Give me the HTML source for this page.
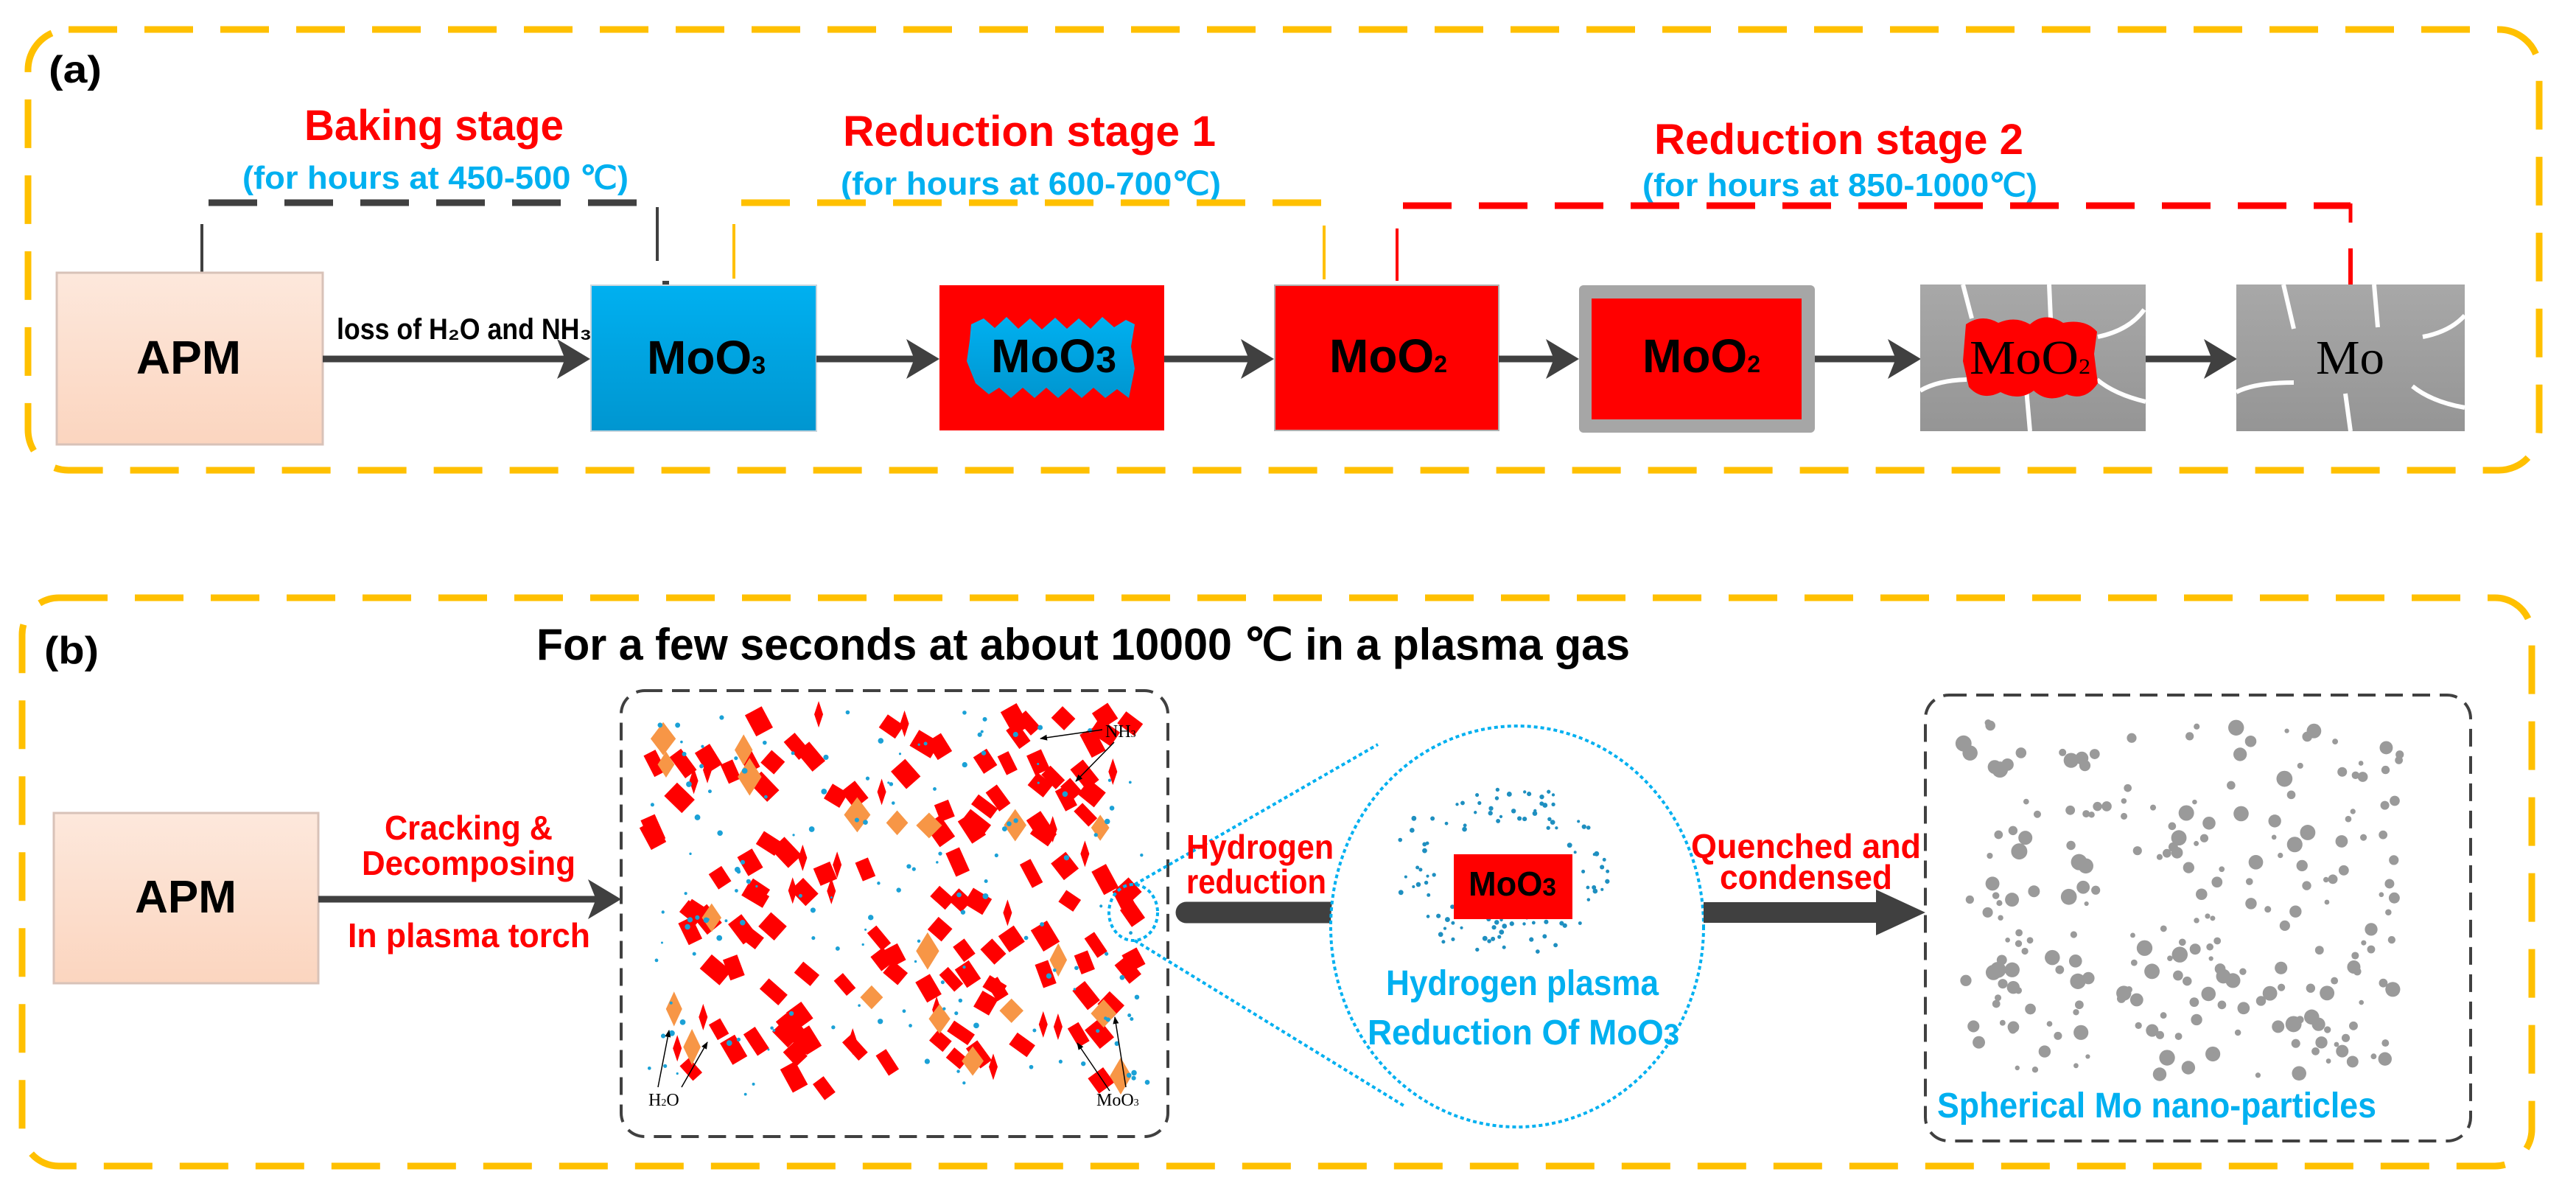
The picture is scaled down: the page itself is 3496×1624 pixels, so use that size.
<!DOCTYPE html>
<html><head><meta charset="utf-8"><style>
html,body{margin:0;padding:0;background:#fff;}
svg{display:block;}
.s{font-family:"Liberation Sans Narrow","Liberation Sans",sans-serif;font-weight:bold;}
.t{font-family:"Liberation Serif",serif;}
</style></head><body>
<svg id="svg" width="3496" height="1624" viewBox="0 0 3496 1624" xmlns="http://www.w3.org/2000/svg">
<defs>
<linearGradient id="apm" x1="0" y1="0" x2="0" y2="1"><stop offset="0" stop-color="#FDE8DC"/><stop offset="1" stop-color="#FBD5BF"/></linearGradient>
<linearGradient id="blu" x1="0" y1="0" x2="0" y2="1"><stop offset="0" stop-color="#00B0F0"/><stop offset="1" stop-color="#0096D0"/></linearGradient>
<linearGradient id="gry" x1="0" y1="0" x2="0" y2="1"><stop offset="0" stop-color="#A8A8A8"/><stop offset="1" stop-color="#959595"/></linearGradient>
<marker id="ah" markerWidth="6" markerHeight="6" refX="4" refY="3" orient="auto" markerUnits="strokeWidth"><path d="M0,0 L5,3 L0,6 L1.2,3 Z" fill="#404040"/></marker>
<marker id="sa" markerWidth="10" markerHeight="10" refX="9" refY="5" orient="auto" markerUnits="userSpaceOnUse"><path d="M0,1 L10,5 L0,9 Z" fill="#000"/></marker>
</defs>

<!-- Panel a -->
<rect x="38" y="40" width="3408" height="598" rx="55" fill="none" stroke="#FFC000" stroke-width="9" stroke-dasharray="66 37"/>
<text x="66" y="112" class="s" font-size="52" fill="#000" textLength="72" lengthAdjust="spacingAndGlyphs">(a)</text>

<text x="413" y="190" class="s" font-size="58" fill="#FF0000" textLength="352" lengthAdjust="spacingAndGlyphs">Baking stage</text>
<text x="329" y="256" class="s" font-size="44" fill="#00B0F0" textLength="524" lengthAdjust="spacingAndGlyphs">(for hours at 450-500 ℃)</text>
<text x="1144" y="198" class="s" font-size="58" fill="#FF0000" textLength="506" lengthAdjust="spacingAndGlyphs">Reduction stage 1</text>
<text x="1141" y="264" class="s" font-size="44" fill="#00B0F0" textLength="516" lengthAdjust="spacingAndGlyphs">(for hours at 600-700℃)</text>
<text x="2245" y="209" class="s" font-size="58" fill="#FF0000" textLength="501" lengthAdjust="spacingAndGlyphs">Reduction stage 2</text>
<text x="2229" y="266" class="s" font-size="44" fill="#00B0F0" textLength="536" lengthAdjust="spacingAndGlyphs">(for hours at 850-1000℃)</text>

<!-- stage brackets -->
<line x1="283" y1="275" x2="865" y2="275" stroke="#404040" stroke-width="9" stroke-dasharray="66 37"/>
<line x1="274" y1="304" x2="274" y2="377" stroke="#404040" stroke-width="4"/>
<line x1="892" y1="281" x2="892" y2="354" stroke="#404040" stroke-width="4"/>
<rect x="899" y="381" width="9" height="10" fill="#404040"/>
<line x1="1006" y1="275" x2="1793" y2="275" stroke="#FFC000" stroke-width="9" stroke-dasharray="66 37"/>
<line x1="996" y1="304" x2="996" y2="378" stroke="#FFC000" stroke-width="4"/>
<line x1="1797" y1="306" x2="1797" y2="379" stroke="#FFC000" stroke-width="4"/>
<line x1="1904" y1="279" x2="3190" y2="279" stroke="#FF0000" stroke-width="9" stroke-dasharray="66 37"/>
<line x1="1896" y1="310" x2="1896" y2="381" stroke="#FF0000" stroke-width="4"/>
<line x1="3190" y1="276" x2="3190" y2="302" stroke="#FF0000" stroke-width="5"/>
<polyline points="3190,337 3190,392 3202,392" fill="none" stroke="#FF0000" stroke-width="6"/>

<!-- boxes a -->
<rect x="77" y="370" width="361" height="233" fill="url(#apm)" stroke="#D8C2B8" stroke-width="3"/>
<text x="256" y="507" class="s" font-size="64" text-anchor="middle" fill="#000">APM</text>
<line x1="438" y1="487" x2="792" y2="487" stroke="#404040" stroke-width="9" marker-end="url(#ah)"/>
<text x="457" y="460" class="s" font-size="40" fill="#000" font-weight="normal" textLength="346" lengthAdjust="spacingAndGlyphs">loss of H₂O and NH₃</text>

<rect x="802" y="387" width="306" height="198" fill="url(#blu)" stroke="#C9D6DE" stroke-width="2"/>
<text x="878" y="507" class="s" font-size="64" fill="#000">MoO<tspan font-size="34">3</tspan></text>
<line x1="1108" y1="487" x2="1266" y2="487" stroke="#404040" stroke-width="9" marker-end="url(#ah)"/>

<rect x="1275" y="387" width="305" height="197" fill="#FF0000"/>
<path d="M1318,440 L1335,432 L1350,445 L1366,430 L1382,446 L1398,432 L1414,447 L1432,431 L1448,446 L1464,432 L1480,446 L1496,430 L1512,444 L1528,434 L1540,440 L1535,470 L1540,500 L1532,540 L1516,528 L1500,540 L1484,526 L1468,540 L1452,526 L1436,540 L1420,526 L1404,540 L1388,526 L1372,540 L1356,526 L1342,535 L1324,520 L1312,490 L1316,462 Z" fill="url(#blu)"/>
<text x="1345" y="505" class="s" font-size="64" fill="#000">MoO<tspan font-size="50">3</tspan></text>
<line x1="1580" y1="487" x2="1720" y2="487" stroke="#404040" stroke-width="9" marker-end="url(#ah)"/>

<rect x="1730" y="387" width="304" height="197" fill="#FF0000" stroke="#B0B0B0" stroke-width="2"/>
<text x="1804" y="505" class="s" font-size="64" fill="#000">MoO<tspan font-size="32">2</tspan></text>
<line x1="2034" y1="487" x2="2134" y2="487" stroke="#404040" stroke-width="9" marker-end="url(#ah)"/>

<rect x="2143" y="387" width="320" height="200" rx="6" fill="#A6A6A6"/>
<rect x="2160" y="405" width="285" height="164" fill="#FF0000"/>
<text x="2229" y="505" class="s" font-size="64" fill="#000">MoO<tspan font-size="32">2</tspan></text>
<line x1="2463" y1="487" x2="2598" y2="487" stroke="#404040" stroke-width="9" marker-end="url(#ah)"/>

<rect x="2606" y="386" width="306" height="199" fill="url(#gry)"/>
<g stroke="#fff" stroke-width="6" fill="none">
<path d="M2664,386 L2676,432"/><path d="M2781,386 L2783,432"/><path d="M2750,528 L2755,585"/>
<path d="M2606,530 Q2630,516 2669,515"/><path d="M2847,457 Q2890,448 2910,420"/><path d="M2846,515 Q2870,535 2912,545"/>
</g>
<path d="M2668,440 Q2690,425 2712,438 Q2735,428 2755,440 Q2775,422 2800,438 Q2830,432 2846,450 L2842,480 L2847,520 Q2830,545 2805,535 Q2780,548 2760,530 Q2740,545 2715,532 Q2690,545 2672,525 L2664,490 Z" fill="#FF0000"/>
<text x="2673" y="507" class="t" font-size="66" fill="#000" textLength="164" lengthAdjust="spacingAndGlyphs">MoO<tspan font-size="30">2</tspan></text>
<line x1="2912" y1="487" x2="3027" y2="487" stroke="#404040" stroke-width="9" marker-end="url(#ah)"/>

<rect x="3035" y="386" width="310" height="199" fill="url(#gry)"/>
<g stroke="#fff" stroke-width="6" fill="none">
<path d="M3099,386 L3113,446"/><path d="M3222,386 L3227,444"/><path d="M3183,534 L3190,585"/>
<path d="M3035,532 Q3060,519 3113,519"/><path d="M3288,457 Q3325,450 3345,428"/><path d="M3274,524 Q3300,545 3345,553"/>
</g>
<text x="3143" y="507" class="t" font-size="66" fill="#000" textLength="93" lengthAdjust="spacingAndGlyphs">Mo</text>

<!-- Panel b -->
<rect x="30" y="811" width="3406" height="771" rx="50" fill="none" stroke="#FFC000" stroke-width="9" stroke-dasharray="66 37"/>
<text x="60" y="900" class="s" font-size="52" fill="#000" textLength="74" lengthAdjust="spacingAndGlyphs">(b)</text>
<text x="728" y="895" class="s" font-size="60" fill="#000" textLength="1484" lengthAdjust="spacingAndGlyphs">For a few seconds at about 10000 ℃ in a plasma gas</text>

<rect x="73" y="1103" width="359" height="231" fill="url(#apm)" stroke="#D8C2B8" stroke-width="3"/>
<text x="252" y="1238" class="s" font-size="62" text-anchor="middle" fill="#000">APM</text>
<line x1="432" y1="1220" x2="834" y2="1220" stroke="#404040" stroke-width="9" marker-end="url(#ah)"/>
<text x="522" y="1139" class="s" font-size="46" fill="#FF0000" textLength="228" lengthAdjust="spacingAndGlyphs">Cracking &amp;</text>
<text x="491" y="1187" class="s" font-size="46" fill="#FF0000" textLength="290" lengthAdjust="spacingAndGlyphs">Decomposing</text>
<text x="472" y="1285" class="s" font-size="46" fill="#FF0000" textLength="329" lengthAdjust="spacingAndGlyphs">In plasma torch</text>

<rect x="843" y="937" width="742" height="605" rx="32" fill="none" stroke="#404040" stroke-width="4" stroke-dasharray="24 13"/>
<g id="p1"></g>
<text x="1500" y="1000" class="t" font-size="24" fill="#000">NH<tspan font-size="14">3</tspan></text>
<line x1="1496" y1="990" x2="1412" y2="1002" stroke="#000" stroke-width="1.5" marker-end="url(#sa)"/>
<line x1="1512" y1="1007" x2="1460" y2="1060" stroke="#000" stroke-width="1.5" marker-end="url(#sa)"/>
<text x="880" y="1500" class="t" font-size="24" fill="#000">H<tspan font-size="14">2</tspan>O</text>
<line x1="893" y1="1475" x2="908" y2="1398" stroke="#000" stroke-width="1.5" marker-end="url(#sa)"/>
<line x1="925" y1="1475" x2="960" y2="1414" stroke="#000" stroke-width="1.5" marker-end="url(#sa)"/>
<text x="1488" y="1500" class="t" font-size="24" fill="#000">MoO<tspan font-size="14">3</tspan></text>
<line x1="1528" y1="1475" x2="1513" y2="1380" stroke="#000" stroke-width="1.5" marker-end="url(#sa)"/>
<line x1="1506" y1="1480" x2="1462" y2="1415" stroke="#000" stroke-width="1.5" marker-end="url(#sa)"/>

<!-- zoom circle -->
<ellipse cx="1538" cy="1238" rx="33" ry="38" fill="none" stroke="#00B0F0" stroke-width="4" stroke-dasharray="5 4"/>
<rect x="1526" y="1226" width="22" height="28" fill="#FF0000" transform="rotate(-35 1537 1240)"/>
<line x1="1540" y1="1200" x2="1870" y2="1010" stroke="#00B0F0" stroke-width="4" stroke-dasharray="5 4"/>
<line x1="1540" y1="1276" x2="1905" y2="1500" stroke="#00B0F0" stroke-width="4" stroke-dasharray="5 4"/>
<text x="1610" y="1165" class="s" font-size="46" fill="#FF0000" textLength="200" lengthAdjust="spacingAndGlyphs">Hydrogen</text>
<text x="1610" y="1212" class="s" font-size="46" fill="#FF0000" textLength="190" lengthAdjust="spacingAndGlyphs">reduction</text>
<line x1="1610" y1="1238" x2="1810" y2="1238" stroke="#404040" stroke-width="29" stroke-linecap="round"/>
<ellipse cx="2059" cy="1257" rx="253" ry="272" fill="#fff" stroke="#00B0F0" stroke-width="4" stroke-dasharray="5 4"/>
<g id="p2"></g>
<rect x="1973" y="1159" width="161" height="88" fill="#FF0000"/>
<text x="1993" y="1215" class="s" font-size="46" font-weight="normal" fill="#000" textLength="119" lengthAdjust="spacingAndGlyphs">MoO<tspan font-size="34">3</tspan></text>
<text x="1881" y="1350" class="s" font-size="48" fill="#00B0F0" textLength="370" lengthAdjust="spacingAndGlyphs">Hydrogen plasma</text>
<text x="1856" y="1417" class="s" font-size="48" fill="#00B0F0" textLength="423" lengthAdjust="spacingAndGlyphs">Reduction Of MoO<tspan font-size="40">3</tspan></text>

<text x="2295" y="1164" class="s" font-size="46" fill="#FF0000" textLength="312" lengthAdjust="spacingAndGlyphs">Quenched and</text>
<text x="2334" y="1206" class="s" font-size="46" fill="#FF0000" textLength="234" lengthAdjust="spacingAndGlyphs">condensed</text>
<path d="M2312,1224 L2546,1224 L2546,1207 L2613,1238 L2546,1269 L2546,1252 L2312,1252 Z" fill="#404040"/>

<rect x="2613" y="943" width="740" height="605" rx="32" fill="none" stroke="#404040" stroke-width="4" stroke-dasharray="24 13"/>
<g id="p3"></g>
<text x="2629" y="1516" class="s" font-size="48" fill="#00B0F0" textLength="596" lengthAdjust="spacingAndGlyphs">Spherical Mo nano-particles</text>
</svg>
<script>
(function(){
var seed=12345;function r(){seed=(seed*1103515245+12345)%2147483648;return seed/2147483648;}
var NS="http://www.w3.org/2000/svg";
function el(g,n,a){var e=document.createElementNS(NS,n);for(var k in a)e.setAttribute(k,a[k]);document.getElementById(g).appendChild(e);}
var i,x,y,w,h,a;
for(i=0;i<140;i++){x=880+r()*670;y=965+r()*520;w=16+r()*10;h=24+r()*12;a=-60+r()*40;
 if(r()<0.15){el("p1","path",{d:"M"+x+","+(y-18)+" L"+(x+6)+","+y+" L"+x+","+(y+18)+" L"+(x-6)+","+y+" Z",fill:"#FF0000"});}
 else el("p1","rect",{x:x-w/2,y:y-h/2,width:w,height:h,fill:"#FF0000",transform:"rotate("+a+" "+x+" "+y+")"});}
for(i=0;i<20;i++){x=890+r()*650;y=980+r()*500;w=10+r()*8;h=16+r()*10;
 el("p1","path",{d:"M"+x+","+(y-h)+" L"+(x+w)+","+y+" L"+x+","+(y+h)+" L"+(x-w)+","+y+" Z",fill:"#F79646"});}
for(i=0;i<150;i++){x=880+r()*680;y=965+r()*520;el("p1","circle",{cx:x,cy:y,r:1.5+r()*2.5,fill:"#1BA1D6"});}
for(i=0;i<110;i++){var t=r()*Math.PI*2,rr=0.55+r()*0.45;x=2037+Math.cos(t)*150*rr;y=1180+Math.sin(t)*118*rr;
 el("p2","circle",{cx:x,cy:y,r:2+r()*1.5,fill:"#1E8FC0"});}
for(i=0;i<230;i++){x=2663+r()*600;y=979+r()*480;var rad=r()<0.5?3+r()*3:6+r()*5;el("p3","circle",{cx:x,cy:y,r:rad,fill:"#9A9A9A"});}
})();
</script>
</body></html>
